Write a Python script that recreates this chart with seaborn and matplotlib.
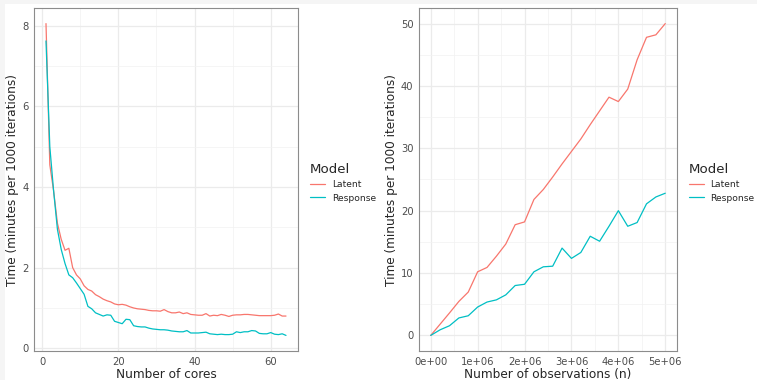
import pandas as pd
import seaborn as sns
import matplotlib.pyplot as plt
import numpy as np
from matplotlib.patches import Rectangle
from matplotlib.ticker import FixedLocator, FuncFormatter

# --- data ---
cores = list(range(1, 65))
latent_cores = [8.05, 4.55, 3.9, 3.1, 2.7, 2.43, 2.48, 2.0, 1.82, 1.72,
                1.55, 1.46, 1.42, 1.33, 1.28, 1.22, 1.18, 1.15, 1.10, 1.08,
                1.09, 1.07, 1.03, 1.00, 0.98, 0.97, 0.96, 0.94, 0.93, 0.93,
                0.92, 0.96, 0.91, 0.88, 0.88, 0.90, 0.86, 0.88, 0.84, 0.83,
                0.82, 0.82, 0.86, 0.80, 0.82, 0.81, 0.84, 0.82, 0.79, 0.82,
                0.83, 0.83, 0.84, 0.84, 0.83, 0.82, 0.81, 0.81, 0.81, 0.81,
                0.82, 0.85, 0.80, 0.80]
response_cores = [7.62, 5.0, 3.9, 2.95, 2.45, 2.1, 1.82, 1.75, 1.62, 1.48,
                  1.34, 1.04, 0.98, 0.88, 0.84, 0.80, 0.83, 0.82, 0.67, 0.64,
                  0.61, 0.72, 0.71, 0.56, 0.54, 0.53, 0.53, 0.50, 0.48, 0.47,
                  0.46, 0.46, 0.45, 0.43, 0.42, 0.41, 0.41, 0.44, 0.38, 0.38,
                  0.38, 0.39, 0.40, 0.36, 0.35, 0.34, 0.35, 0.34, 0.34, 0.35,
                  0.41, 0.39, 0.41, 0.41, 0.44, 0.43, 0.37, 0.36, 0.36, 0.39,
                  0.35, 0.34, 0.36, 0.32]

n_obs = [0, 2e5, 4e5, 6e5, 8e5, 1e6, 1.2e6, 1.4e6, 1.6e6, 1.8e6, 2e6,
         2.2e6, 2.4e6, 2.6e6, 2.8e6, 3e6, 3.2e6, 3.4e6, 3.6e6, 3.8e6, 4e6,
         4.2e6, 4.4e6, 4.6e6, 4.8e6, 5e6]
latent_n = [0, 1.8, 3.6, 5.45, 6.95, 10.2, 10.9, 12.7, 14.65, 17.75, 18.2,
            21.8, 23.4, 25.4, 27.5, 29.5, 31.5, 33.8, 36.0, 38.2, 37.5,
            39.5, 44.2, 47.8, 48.2, 50.0]
response_n = [0, 0.9, 1.55, 2.8, 3.15, 4.55, 5.35, 5.7, 6.5, 8.0, 8.2,
              10.2, 11.0, 11.1, 14.0, 12.35, 13.3, 15.9, 15.1, 17.5, 20.0,
              17.5, 18.1, 21.1, 22.2, 22.8]

models = ["Latent", "Response"]
colors = ["#F8766D", "#00BFC4"]

df_cores = pd.DataFrame({
    "x": cores * 2,
    "y": latent_cores + response_cores,
    "Model": ["Latent"] * len(cores) + ["Response"] * len(cores),
})
df_n = pd.DataFrame({
    "x": n_obs * 2,
    "y": latent_n + response_n,
    "Model": ["Latent"] * len(n_obs) + ["Response"] * len(n_obs),
})

sns.set_style("white")
plt.rcParams['font.family'] = ['DejaVu Sans']

fig = plt.figure(figsize=(7.57, 3.8), dpi=100)
fig.patch.set_facecolor("#f5f5f5")
fig.patches.append(Rectangle((5 / 757, 0), 1, 1 - 4 / 380, transform=fig.transFigure,
                             facecolor="white", edgecolor="none", zorder=-1))

ax1 = fig.add_axes([34 / 757, 29 / 380, 264 / 757, 343 / 380])
ax2 = fig.add_axes([419 / 757, 29 / 380, 258 / 757, 343 / 380])


def style_axis(ax, xmaj, xmin, ymaj, ymin):
    ax.set_facecolor("white")
    ax.xaxis.set_major_locator(FixedLocator(xmaj))
    ax.xaxis.set_minor_locator(FixedLocator(xmin))
    ax.yaxis.set_major_locator(FixedLocator(ymaj))
    ax.yaxis.set_minor_locator(FixedLocator(ymin))
    ax.grid(which="major", color="#ebebeb", linewidth=0.9)
    ax.grid(which="minor", color="#f2f2f2", linewidth=0.5)
    ax.set_axisbelow(True)
    for s in ax.spines.values():
        s.set_color("#8c8c8c")
        s.set_linewidth(0.8)
    ax.tick_params(which="major", length=2.5, width=0.6, color="#555555",
                   labelsize=7.2, labelcolor="#4d4d4d", pad=1.5)
    ax.tick_params(which="minor", length=0)
    ax.set_ylabel("Time (minutes per 1000 iterations)", fontsize=8.7, labelpad=2)
    leg = ax.legend(title="Model", loc="center left", bbox_to_anchor=(1.02, 0.49),
                    frameon=False, fontsize=6.6, title_fontsize=9.6,
                    handlelength=1.7, handletextpad=0.7, alignment="left",
                    borderaxespad=0.3, labelspacing=0.45)


sns.lineplot(data=df_cores, x="x", y="y", hue="Model", hue_order=models,
             palette=colors, linewidth=0.9, ax=ax1)
sns.lineplot(data=df_n, x="x", y="y", hue="Model", hue_order=models,
             palette=colors, linewidth=0.9, ax=ax2)

style_axis(ax1, [0, 20, 40, 60], [10, 30, 50], [0, 2, 4, 6, 8], [1, 3, 5, 7])
style_axis(ax2, [0, 1e6, 2e6, 3e6, 4e6, 5e6], [5e5, 1.5e6, 2.5e6, 3.5e6, 4.5e6],
           [0, 10, 20, 30, 40, 50], [5, 15, 25, 35, 45])

ax2.xaxis.set_major_formatter(FuncFormatter(lambda v, p: f"{int(round(v / 1e6))}e+{'06' if v else '00'}"))

ax1.set_xlabel("Number of cores", fontsize=8.7, labelpad=1)
ax2.set_xlabel("Number of observations (n)", fontsize=8.7, labelpad=1)

fig.savefig("out.png", dpi=100, facecolor=fig.get_facecolor())
